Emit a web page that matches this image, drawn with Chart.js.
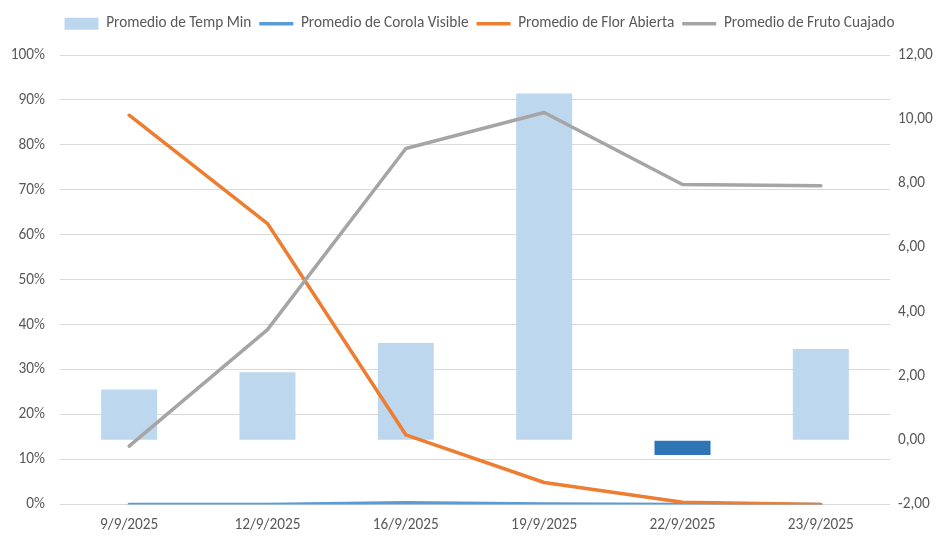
<!DOCTYPE html>
<html>
<head>
<meta charset="utf-8">
<script src="https://cdn.jsdelivr.net/npm/chart.js@4/dist/chart.umd.min.js"></script>
<style>
  html, body { margin: 0; padding: 0; background: #ffffff; }
  #wrap { width: 940px; height: 540px; position: relative; }
</style>
</head>
<body>
<div id="wrap"><canvas id="c" width="940" height="540"></canvas></div>
<script>
// Fechas de muestreo
const categories = ['9/9/2025', '12/9/2025', '16/9/2025', '19/9/2025', '22/9/2025', '23/9/2025'];
// Promedio de temperatura mínima (eje derecho)
const tempMin = [1.58, 2.12, 3.03, 10.80, -0.46, 2.84];
// Proporciones por estado fenológico (eje izquierdo)
const corolaVisible = [0, 0, 0.004, 0.001, 0, 0];
const florAbierta = [0.866, 0.625, 0.155, 0.049, 0.005, 0];
const frutoCuajado = [0.13, 0.389, 0.792, 0.872, 0.712, 0.709];
// Ticks de los ejes
const leftTicks = [0, 0.1, 0.2, 0.3, 0.4, 0.5, 0.6, 0.7, 0.8, 0.9, 1];
const rightTicks = [-2, 0, 2, 4, 6, 8, 10, 12];

const FONT = "Carlito, 'Open Sans', 'Liberation Sans', sans-serif";
const TXT = '#595959';
const FS = 15.3;
const LW = 3.5;

const barColors = tempMin.map(v => v < 0 ? '#2E75B6' : '#BDD7EE');

// Leyenda: alto fijo y desplazada ligeramente a la derecha
const legendBox = {
  id: 'legendBox',
  afterInit(chart) {
    const fit = chart.legend.fit;
    chart.legend.fit = function () {
      fit.call(this);
      this.height = 47;
    };
  },
  afterLayout(chart) {
    chart.legend.left = 19;
  }
};

function lineSet(label, data, color, order) {
  return {
    type: 'line',
    label,
    data,
    borderColor: color,
    backgroundColor: color,
    borderWidth: LW,
    pointRadius: 0,
    yAxisID: 'y',
    order,
    borderJoinStyle: 'round',
    borderCapStyle: 'round'
  };
}

new Chart(document.getElementById('c'), {
  type: 'bar',
  data: {
    labels: categories,
    datasets: [
      {
        type: 'bar',
        label: 'Promedio de Temp Min',
        data: tempMin,
        backgroundColor: barColors,
        yAxisID: 'y1',
        order: 4,
        categoryPercentage: 1,
        barPercentage: 0.405
      },
      lineSet('Promedio de Corola Visible', corolaVisible, '#5B9BD5', 3),
      lineSet('Promedio de Flor Abierta', florAbierta, '#ED7D31', 2),
      lineSet('Promedio de Fruto Cuajado', frutoCuajado, '#A5A5A5', 1)
    ]
  },
  plugins: [legendBox],
  options: {
    responsive: false,
    animation: false,
    layout: { padding: { left: 0, right: 0, top: 8, bottom: 0 } },
    plugins: {
      tooltip: { enabled: false },
      legend: {
        position: 'top',
        labels: {
          color: TXT,
          font: { family: FONT, size: FS },
          padding: 8,
          usePointStyle: true,
          pointStyleWidth: 34,
          boxHeight: 12,
          sort: (a, b) => a.datasetIndex - b.datasetIndex,
          generateLabels(chart) {
            return chart.data.datasets.map((ds, i) => ({
              text: ds.label,
              datasetIndex: i,
              fillStyle: ds.type === 'bar' ? '#BDD7EE' : ds.borderColor,
              strokeStyle: ds.type === 'bar' ? '#BDD7EE' : ds.borderColor,
              lineWidth: ds.type === 'bar' ? 0 : LW,
              pointStyle: ds.type === 'bar' ? 'rect' : 'line',
              fontColor: TXT,
              hidden: false
            }));
          }
        }
      }
    },
    scales: {
      x: {
        offset: true,
        grid: { display: false, drawTicks: false },
        border: { display: false },
        afterFit(axis) { axis.height = 35.5; },
        ticks: { color: TXT, font: { family: FONT, size: FS }, padding: 11, maxRotation: 0 }
      },
      y: {
        position: 'left',
        min: 0,
        max: 1,
        afterBuildTicks(axis) { axis.ticks = leftTicks.map(v => ({ value: v })); },
        afterFit(axis) { axis.width = 60; },
        grid: { color: '#D9D9D9', lineWidth: 1, drawTicks: false },
        border: { display: false },
        ticks: {
          color: TXT,
          font: { family: FONT, size: FS },
          padding: 15,
          callback: v => Math.round(v * 100) + '%'
        }
      },
      y1: {
        position: 'right',
        min: -2,
        max: 12,
        afterBuildTicks(axis) { axis.ticks = rightTicks.map(v => ({ value: v })); },
        afterFit(axis) { axis.width = 50; },
        grid: { drawOnChartArea: false, drawTicks: false },
        border: { display: false },
        ticks: {
          color: TXT,
          font: { family: FONT, size: FS },
          padding: 8,
          callback: v => v.toFixed(2).replace('.', ',')
        }
      }
    }
  }
});
</script>
</body>
</html>
